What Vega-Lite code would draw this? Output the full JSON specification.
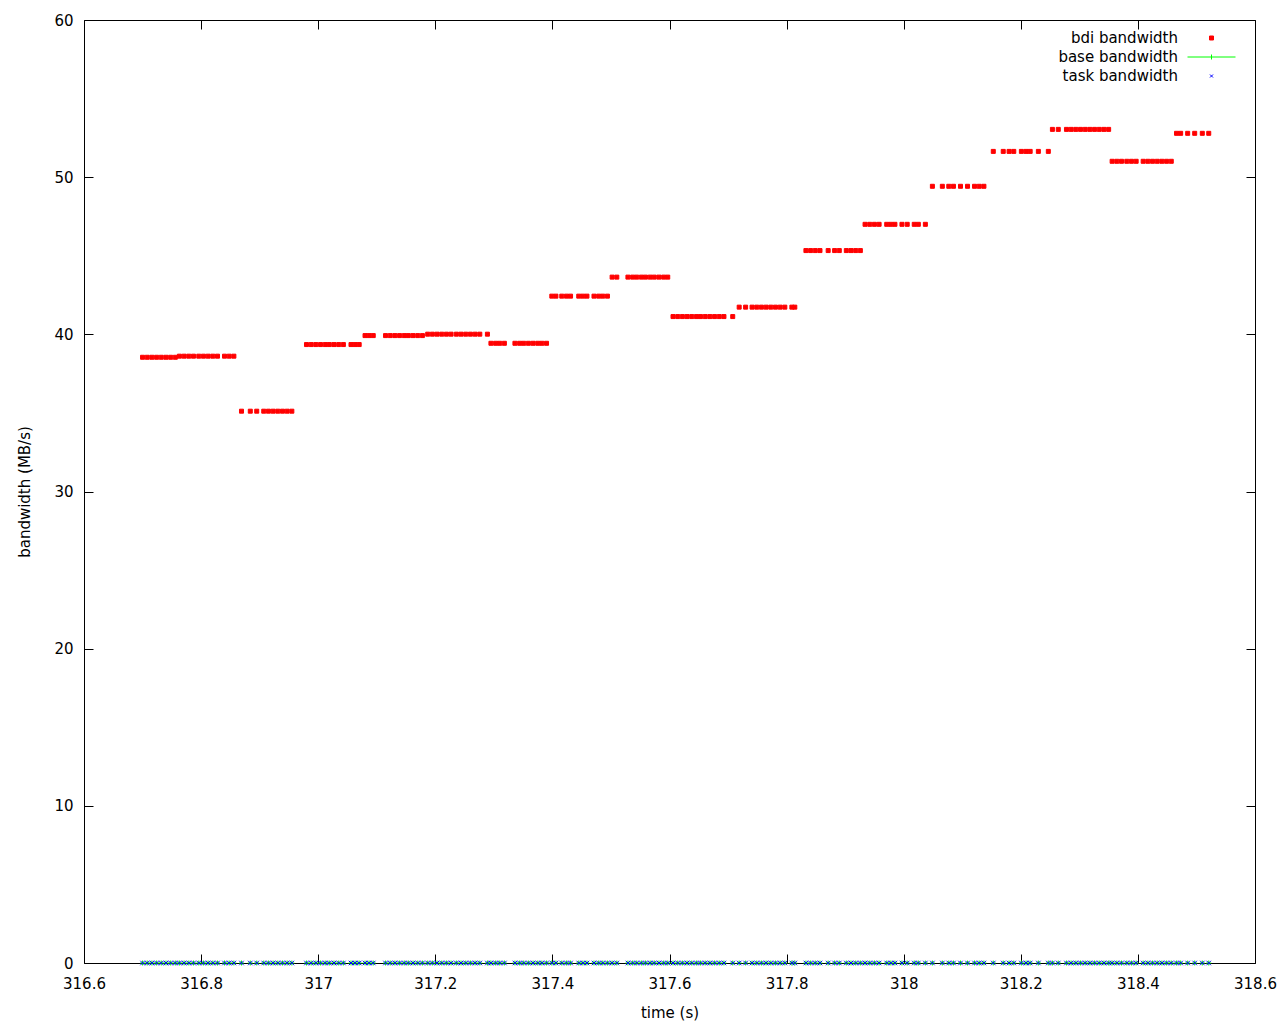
{
"$schema": "https://vega.github.io/schema/vega-lite/v6.json",
"autosize": "none",
"width": 1171,
"height": 943,
"padding": {"left": 84, "top": 20, "right": 25, "bottom": 61},
"background": "white",
"config": {"font": "DejaVu Sans", "view": {"stroke": null}},
"data": {"values": [
{"t":316.700,"bdi":38.54,"base":0,"task":0},{"t":316.708,"bdi":38.54,"base":0,"task":0},{"t":316.716,"bdi":38.54,"base":0,"task":0},{"t":316.724,"bdi":38.54,"base":0,"task":0},{"t":316.732,"bdi":38.54,"base":0,"task":0},{"t":316.740,"bdi":38.54,"base":0,"task":0},{"t":316.748,"bdi":38.54,"base":0,"task":0},{"t":316.756,"bdi":38.54,"base":0,"task":0},
{"t":316.763,"bdi":38.61,"base":0,"task":0},{"t":316.771,"bdi":38.61,"base":0,"task":0},{"t":316.779,"bdi":38.61,"base":0,"task":0},{"t":316.787,"bdi":38.61,"base":0,"task":0},{"t":316.796,"bdi":38.61,"base":0,"task":0},{"t":316.804,"bdi":38.61,"base":0,"task":0},{"t":316.812,"bdi":38.61,"base":0,"task":0},{"t":316.820,"bdi":38.61,"base":0,"task":0},{"t":316.828,"bdi":38.61,"base":0,"task":0},
{"t":316.840,"bdi":38.61,"base":0,"task":0},{"t":316.848,"bdi":38.61,"base":0,"task":0},{"t":316.856,"bdi":38.61,"base":0,"task":0},
{"t":316.869,"bdi":35.11,"base":0,"task":0},{"t":316.884,"bdi":35.11,"base":0,"task":0},{"t":316.895,"bdi":35.11,"base":0,"task":0},{"t":316.907,"bdi":35.11,"base":0,"task":0},{"t":316.915,"bdi":35.11,"base":0,"task":0},{"t":316.923,"bdi":35.11,"base":0,"task":0},{"t":316.931,"bdi":35.11,"base":0,"task":0},{"t":316.939,"bdi":35.11,"base":0,"task":0},{"t":316.947,"bdi":35.11,"base":0,"task":0},{"t":316.955,"bdi":35.11,"base":0,"task":0},
{"t":316.980,"bdi":39.35,"base":0,"task":0},{"t":316.988,"bdi":39.35,"base":0,"task":0},{"t":316.996,"bdi":39.35,"base":0,"task":0},{"t":317.004,"bdi":39.35,"base":0,"task":0},{"t":317.012,"bdi":39.35,"base":0,"task":0},{"t":317.019,"bdi":39.35,"base":0,"task":0},{"t":317.027,"bdi":39.35,"base":0,"task":0},{"t":317.035,"bdi":39.35,"base":0,"task":0},{"t":317.043,"bdi":39.35,"base":0,"task":0},{"t":317.056,"bdi":39.35,"base":0,"task":0},{"t":317.063,"bdi":39.35,"base":0,"task":0},{"t":317.070,"bdi":39.35,"base":0,"task":0},
{"t":317.080,"bdi":39.92,"base":0,"task":0},{"t":317.087,"bdi":39.92,"base":0,"task":0},{"t":317.094,"bdi":39.92,"base":0,"task":0},{"t":317.115,"bdi":39.92,"base":0,"task":0},{"t":317.123,"bdi":39.92,"base":0,"task":0},{"t":317.131,"bdi":39.92,"base":0,"task":0},{"t":317.139,"bdi":39.92,"base":0,"task":0},{"t":317.147,"bdi":39.92,"base":0,"task":0},{"t":317.154,"bdi":39.92,"base":0,"task":0},{"t":317.162,"bdi":39.92,"base":0,"task":0},{"t":317.170,"bdi":39.92,"base":0,"task":0},{"t":317.178,"bdi":39.92,"base":0,"task":0},
{"t":317.187,"bdi":40.01,"base":0,"task":0},{"t":317.195,"bdi":40.01,"base":0,"task":0},{"t":317.203,"bdi":40.01,"base":0,"task":0},{"t":317.211,"bdi":40.01,"base":0,"task":0},{"t":317.219,"bdi":40.01,"base":0,"task":0},{"t":317.227,"bdi":40.01,"base":0,"task":0},{"t":317.236,"bdi":40.01,"base":0,"task":0},{"t":317.244,"bdi":40.01,"base":0,"task":0},{"t":317.252,"bdi":40.01,"base":0,"task":0},{"t":317.260,"bdi":40.01,"base":0,"task":0},{"t":317.268,"bdi":40.01,"base":0,"task":0},{"t":317.276,"bdi":40.01,"base":0,"task":0},{"t":317.289,"bdi":40.01,"base":0,"task":0},
{"t":317.295,"bdi":39.43,"base":0,"task":0},{"t":317.303,"bdi":39.43,"base":0,"task":0},{"t":317.310,"bdi":39.43,"base":0,"task":0},{"t":317.318,"bdi":39.43,"base":0,"task":0},{"t":317.336,"bdi":39.43,"base":0,"task":0},{"t":317.344,"bdi":39.43,"base":0,"task":0},{"t":317.351,"bdi":39.43,"base":0,"task":0},{"t":317.359,"bdi":39.43,"base":0,"task":0},{"t":317.367,"bdi":39.43,"base":0,"task":0},{"t":317.375,"bdi":39.43,"base":0,"task":0},{"t":317.382,"bdi":39.43,"base":0,"task":0},{"t":317.390,"bdi":39.43,"base":0,"task":0},
{"t":317.399,"bdi":42.43,"base":0,"task":0},{"t":317.406,"bdi":42.43,"base":0,"task":0},{"t":317.416,"bdi":42.43,"base":0,"task":0},{"t":317.424,"bdi":42.43,"base":0,"task":0},{"t":317.431,"bdi":42.43,"base":0,"task":0},{"t":317.445,"bdi":42.43,"base":0,"task":0},{"t":317.452,"bdi":42.43,"base":0,"task":0},{"t":317.459,"bdi":42.43,"base":0,"task":0},{"t":317.471,"bdi":42.43,"base":0,"task":0},{"t":317.479,"bdi":42.43,"base":0,"task":0},{"t":317.486,"bdi":42.43,"base":0,"task":0},{"t":317.494,"bdi":42.43,"base":0,"task":0},
{"t":317.502,"bdi":43.64,"base":0,"task":0},{"t":317.510,"bdi":43.64,"base":0,"task":0},{"t":317.529,"bdi":43.64,"base":0,"task":0},{"t":317.537,"bdi":43.64,"base":0,"task":0},{"t":317.544,"bdi":43.64,"base":0,"task":0},{"t":317.552,"bdi":43.64,"base":0,"task":0},{"t":317.559,"bdi":43.64,"base":0,"task":0},{"t":317.567,"bdi":43.64,"base":0,"task":0},{"t":317.574,"bdi":43.64,"base":0,"task":0},{"t":317.582,"bdi":43.64,"base":0,"task":0},{"t":317.590,"bdi":43.64,"base":0,"task":0},{"t":317.597,"bdi":43.64,"base":0,"task":0},
{"t":317.606,"bdi":41.13,"base":0,"task":0},{"t":317.614,"bdi":41.13,"base":0,"task":0},{"t":317.622,"bdi":41.13,"base":0,"task":0},{"t":317.630,"bdi":41.13,"base":0,"task":0},{"t":317.638,"bdi":41.13,"base":0,"task":0},{"t":317.646,"bdi":41.13,"base":0,"task":0},{"t":317.653,"bdi":41.13,"base":0,"task":0},{"t":317.661,"bdi":41.13,"base":0,"task":0},{"t":317.669,"bdi":41.13,"base":0,"task":0},{"t":317.677,"bdi":41.13,"base":0,"task":0},{"t":317.685,"bdi":41.13,"base":0,"task":0},{"t":317.693,"bdi":41.13,"base":0,"task":0},{"t":317.708,"bdi":41.13,"base":0,"task":0},
{"t":317.719,"bdi":41.73,"base":0,"task":0},{"t":317.730,"bdi":41.73,"base":0,"task":0},{"t":317.741,"bdi":41.73,"base":0,"task":0},{"t":317.749,"bdi":41.73,"base":0,"task":0},{"t":317.757,"bdi":41.73,"base":0,"task":0},{"t":317.765,"bdi":41.73,"base":0,"task":0},{"t":317.773,"bdi":41.73,"base":0,"task":0},{"t":317.781,"bdi":41.73,"base":0,"task":0},{"t":317.789,"bdi":41.73,"base":0,"task":0},{"t":317.797,"bdi":41.73,"base":0,"task":0},{"t":317.809,"bdi":41.73,"base":0,"task":0},{"t":317.814,"bdi":41.73,"base":0,"task":0},
{"t":317.833,"bdi":45.33,"base":0,"task":0},{"t":317.841,"bdi":45.33,"base":0,"task":0},{"t":317.849,"bdi":45.33,"base":0,"task":0},{"t":317.857,"bdi":45.33,"base":0,"task":0},{"t":317.871,"bdi":45.33,"base":0,"task":0},{"t":317.882,"bdi":45.33,"base":0,"task":0},{"t":317.890,"bdi":45.33,"base":0,"task":0},{"t":317.902,"bdi":45.33,"base":0,"task":0},{"t":317.910,"bdi":45.33,"base":0,"task":0},{"t":317.918,"bdi":45.33,"base":0,"task":0},{"t":317.926,"bdi":45.33,"base":0,"task":0},
{"t":317.934,"bdi":47.0,"base":0,"task":0},{"t":317.942,"bdi":47.0,"base":0,"task":0},{"t":317.950,"bdi":47.0,"base":0,"task":0},{"t":317.958,"bdi":47.0,"base":0,"task":0},{"t":317.971,"bdi":47.0,"base":0,"task":0},{"t":317.978,"bdi":47.0,"base":0,"task":0},{"t":317.985,"bdi":47.0,"base":0,"task":0},{"t":317.997,"bdi":47.0,"base":0,"task":0},{"t":318.006,"bdi":47.0,"base":0,"task":0},{"t":318.018,"bdi":47.0,"base":0,"task":0},{"t":318.025,"bdi":47.0,"base":0,"task":0},{"t":318.037,"bdi":47.0,"base":0,"task":0},
{"t":318.049,"bdi":49.42,"base":0,"task":0},{"t":318.066,"bdi":49.42,"base":0,"task":0},{"t":318.077,"bdi":49.42,"base":0,"task":0},{"t":318.085,"bdi":49.42,"base":0,"task":0},{"t":318.097,"bdi":49.42,"base":0,"task":0},{"t":318.109,"bdi":49.42,"base":0,"task":0},{"t":318.121,"bdi":49.42,"base":0,"task":0},{"t":318.129,"bdi":49.42,"base":0,"task":0},{"t":318.137,"bdi":49.42,"base":0,"task":0},
{"t":318.153,"bdi":51.64,"base":0,"task":0},{"t":318.170,"bdi":51.64,"base":0,"task":0},{"t":318.180,"bdi":51.64,"base":0,"task":0},{"t":318.188,"bdi":51.64,"base":0,"task":0},{"t":318.201,"bdi":51.64,"base":0,"task":0},{"t":318.209,"bdi":51.64,"base":0,"task":0},{"t":318.216,"bdi":51.64,"base":0,"task":0},{"t":318.230,"bdi":51.64,"base":0,"task":0},{"t":318.247,"bdi":51.64,"base":0,"task":0},
{"t":318.254,"bdi":53.04,"base":0,"task":0},{"t":318.264,"bdi":53.04,"base":0,"task":0},{"t":318.278,"bdi":53.04,"base":0,"task":0},{"t":318.286,"bdi":53.04,"base":0,"task":0},{"t":318.294,"bdi":53.04,"base":0,"task":0},{"t":318.302,"bdi":53.04,"base":0,"task":0},{"t":318.310,"bdi":53.04,"base":0,"task":0},{"t":318.318,"bdi":53.04,"base":0,"task":0},{"t":318.326,"bdi":53.04,"base":0,"task":0},{"t":318.334,"bdi":53.04,"base":0,"task":0},{"t":318.342,"bdi":53.04,"base":0,"task":0},{"t":318.350,"bdi":53.04,"base":0,"task":0},
{"t":318.356,"bdi":51.01,"base":0,"task":0},{"t":318.364,"bdi":51.01,"base":0,"task":0},{"t":318.372,"bdi":51.01,"base":0,"task":0},{"t":318.381,"bdi":51.01,"base":0,"task":0},{"t":318.389,"bdi":51.01,"base":0,"task":0},{"t":318.397,"bdi":51.01,"base":0,"task":0},{"t":318.409,"bdi":51.01,"base":0,"task":0},{"t":318.417,"bdi":51.01,"base":0,"task":0},{"t":318.425,"bdi":51.01,"base":0,"task":0},{"t":318.433,"bdi":51.01,"base":0,"task":0},{"t":318.441,"bdi":51.01,"base":0,"task":0},{"t":318.449,"bdi":51.01,"base":0,"task":0},{"t":318.457,"bdi":51.01,"base":0,"task":0},
{"t":318.466,"bdi":52.79,"base":0,"task":0},{"t":318.473,"bdi":52.79,"base":0,"task":0},{"t":318.485,"bdi":52.79,"base":0,"task":0},{"t":318.497,"bdi":52.79,"base":0,"task":0},{"t":318.510,"bdi":52.79,"base":0,"task":0},{"t":318.521,"bdi":52.79,"base":0,"task":0}
]},
"transform": [{"fold": ["bdi", "base", "task"], "as": ["key", "v"]}],
"resolve": {"axis": {"x": "independent", "y": "independent"}},
"layer": [
{
"transform": [{"filter": "datum.key === 'bdi'"}],
"mark": {"type": "point", "filled": true, "size": 25, "opacity": 1, "strokeWidth": 1},
"encoding": {
"x": {"field": "t", "type": "quantitative", "scale": {"domain": [316.6, 318.6], "nice": false, "zero": false},
"axis": {"orient": "bottom", "values": [316.6, 316.8, 317, 317.2, 317.4, 317.6, 317.8, 318, 318.2, 318.4, 318.6], "format": "~g", "ticks": false, "grid": false, "domain": true, "domainColor": "black", "domainWidth": 1, "labelPadding": 13, "labelFontSize": 15, "labelColor": "black", "labelFlush": false, "labelOverlap": false, "title": "time (s)", "titleFontSize": 15, "titleFontWeight": "normal", "titleColor": "black", "titlePadding": 14}},
"y": {"field": "v", "type": "quantitative", "scale": {"domain": [0, 60], "nice": false},
"axis": {"orient": "left", "values": [0, 10, 20, 30, 40, 50, 60], "ticks": false, "grid": false, "domain": true, "domainColor": "black", "domainWidth": 1, "labelPadding": 11, "labelFontSize": 15, "labelColor": "black", "labelFlush": false, "labelOverlap": false, "title": "bandwidth (MB/s)", "titleFontSize": 15, "titleFontWeight": "normal", "titleColor": "black", "titlePadding": 21}},
"fill": {"field": "key", "type": "nominal", "scale": {"domain": ["bdi", "base", "task"], "range": ["#ff0000", "#00ff00", "#0000ff"]},
"legend": {"orient": "none", "legendX": 1120, "legendY": 10.5, "title": null, "padding": 0, "rowPadding": 3, "symbolSize": 25, "symbolStrokeWidth": 1,
"labelExpr": "datum.label + ' bandwidth'", "labelFontSize": 15, "labelColor": "black", "labelAlign": "right", "labelOffset": -41, "labelLimit": 300}},
"stroke": {"field": "key", "type": "nominal", "scale": {"domain": ["bdi", "base", "task"], "range": ["#ff0000", "#00ff00", "#0000ff"]},
"legend": {"orient": "none", "legendX": 1120, "legendY": 10.5, "title": null, "padding": 0, "rowPadding": 3, "symbolSize": 25, "symbolStrokeWidth": 1,
"labelExpr": "datum.label + ' bandwidth'", "labelFontSize": 15, "labelColor": "black", "labelAlign": "right", "labelOffset": -41, "labelLimit": 300}},
"shape": {"field": "key", "type": "nominal", "scale": {"domain": ["bdi", "base", "task"], "range": ["M-0.8,-0.8H0.8V0.8H-0.8Z", "M-9.6,0H9.6M0,-1V1", "M-0.6,-0.6L0.6,0.6M-0.6,0.6L0.6,-0.6"]},
"legend": {"orient": "none", "legendX": 1120, "legendY": 10.5, "title": null, "padding": 0, "rowPadding": 3, "symbolSize": 25, "symbolStrokeWidth": 1,
"labelExpr": "datum.label + ' bandwidth'", "labelFontSize": 15, "labelColor": "black", "labelAlign": "right", "labelOffset": -41, "labelLimit": 300}}
}
},
{
"transform": [{"filter": "datum.key === 'base'"}],
"mark": {"type": "point", "shape": "M-1,0H1M0,-1V1", "filled": false, "stroke": "#00ff00", "size": 25, "opacity": 1, "strokeWidth": 1},
"encoding": {
"x": {"field": "t", "type": "quantitative", "axis": {"orient": "bottom", "values": [316.6, 316.8, 317, 317.2, 317.4, 317.6, 317.8, 318, 318.2, 318.4, 318.6], "labels": false, "domain": false, "grid": false, "ticks": true, "tickSize": -9, "tickColor": "black", "tickWidth": 1, "title": null}},
"y": {"field": "v", "type": "quantitative", "axis": {"orient": "left", "values": [0, 10, 20, 30, 40, 50, 60], "labels": false, "domain": false, "grid": false, "ticks": true, "tickSize": -9, "tickColor": "black", "tickWidth": 1, "title": null}}
}
},
{
"transform": [{"filter": "datum.key === 'task'"}],
"mark": {"type": "point", "shape": "M-1,-1L1,1M-1,1L1,-1", "filled": false, "stroke": "#0000ff", "size": 20, "opacity": 1, "strokeWidth": 1},
"encoding": {
"x": {"field": "t", "type": "quantitative", "axis": {"orient": "top", "values": [316.6, 316.8, 317, 317.2, 317.4, 317.6, 317.8, 318, 318.2, 318.4, 318.6], "labels": false, "domain": true, "domainColor": "black", "grid": false, "ticks": true, "tickSize": -9, "tickColor": "black", "tickWidth": 1, "title": null}},
"y": {"field": "v", "type": "quantitative", "axis": {"orient": "right", "values": [0, 10, 20, 30, 40, 50, 60], "labels": false, "domain": true, "domainColor": "black", "grid": false, "ticks": true, "tickSize": -9, "tickColor": "black", "tickWidth": 1, "title": null}}
}
}
]
}
